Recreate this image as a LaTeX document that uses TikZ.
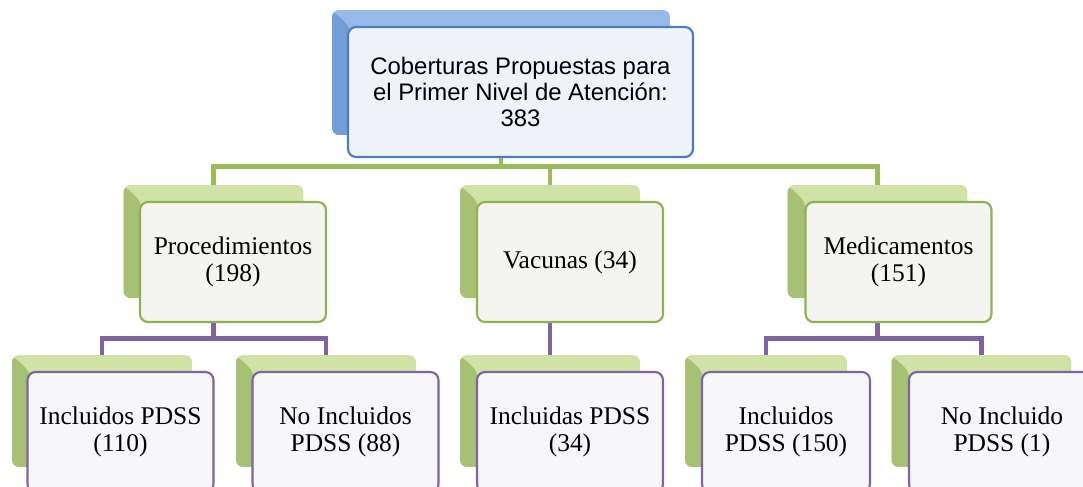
\documentclass[tikz,border=0pt]{standalone}
\usepackage{fontspec}
\setmainfont{Liberation Serif}
\newfontfamily\arialfont{Liberation Sans}
\definecolor{blueTop}{HTML}{95B9E9}
\definecolor{blueSide}{HTML}{739ED8}
\definecolor{blueLine}{HTML}{4A7EBB}
\definecolor{bluePaper}{HTML}{F0F2FA}
\definecolor{greenTop}{HTML}{D0E2A6}
\definecolor{greenSide}{HTML}{A6C174}
\definecolor{greenLine}{HTML}{8FB24F}
\definecolor{greenPaper}{HTML}{F4F4F0}
\definecolor{greenBar}{HTML}{9BBB59}
\definecolor{purpleLine}{HTML}{8064A2}
\definecolor{purplePaper}{HTML}{F7F6FA}
\tikzset{
  backbox/.style={rounded corners=0.14cm, fill=#1Top, inner sep=0pt,
    minimum width=3.6cm, minimum height=2.26cm,
    path picture={\fill[#1Side] (path picture bounding box.north west)
      -- ++(0.36cm,-0.34cm) -- ++(0,-6cm) -- ++(-0.36cm,0) -- cycle;}},
  frontbox/.style={rounded corners=0.16cm, draw=#1Line, line width=1.2pt,
    fill=#1Paper, align=center,
    minimum width=3.72cm, minimum height=2.4cm, inner sep=2pt,
    font=\fontsize{14.5}{15}\selectfont},
  bar/.style={draw=#1, line width=2.8pt}
}
\begin{document}
\begin{tikzpicture}[x=0.02cm, y=-0.02cm]
\clip (0,0) rectangle (1083,487);
% shadow boxes
\node[backbox=blue, minimum width=6.76cm, minimum height=2.5cm] (topback) at (501,72.5) {};
\node[backbox=green] (procback) at (213.5,241.5) {};
\node[backbox=green] (vacback) at (550,241.5) {};
\node[backbox=green] (medback) at (877.5,241.5) {};
\node[backbox=green, minimum height=2.24cm] (procinback) at (102,411) {};
\node[backbox=green, minimum height=2.24cm] (procnoback) at (326,411) {};
\node[backbox=green, minimum height=2.24cm] (vacinback) at (550,411) {};
\node[backbox=green, minimum width=3.24cm, minimum height=2.24cm] (medinback) at (766,411) {};
\node[backbox=green, minimum height=2.24cm] (mednoback) at (981.5,411) {};
% green lines
\draw[bar=greenBar] (topback.south) -- ++(0,31) -| (procback.north);
\draw[bar=greenBar] (topback.south) -- ++(0,31) -| (vacback.north);
\draw[bar=greenBar] (topback.south) -- ++(0,31) -| (medback.north);
% purple lines
\draw[bar=purpleLine] (procback.south) -- ++(0,40) -| (procinback.north);
\draw[bar=purpleLine] (procback.south) -- ++(0,40) -| (procnoback.north);
\draw[bar=purpleLine] (vacback.south) -- (vacinback.north);
\draw[bar=purpleLine] (medback.south) -- ++(0,40) -| (medinback.north);
\draw[bar=purpleLine] (medback.south) -- ++(0,40) -| (mednoback.north);
% boxes
\node[frontbox=blue, minimum width=6.9cm, minimum height=2.6cm,
  font=\arialfont\fontsize{13.6}{14.7}\selectfont] (top) at (520.5,92)
  {Coberturas Propuestas para\\el Primer Nivel de Atención:\\383};
\node[frontbox=green] (proc) at (233,262) {Procedimientos\\(198)};
\node[frontbox=green] (vac) at (570,262) {Vacunas (34)};
\node[frontbox=green] (med) at (898.5,262) {Medicamentos\\(151)};
\node[frontbox=purple] (procin) at (120.5,432) {Incluidos PDSS\\(110)};
\node[frontbox=purple] (procno) at (345.5,432) {No Incluidos\\PDSS (88)};
\node[frontbox=purple] (vacin) at (570,432) {Incluidas PDSS\\(34)};
\node[frontbox=purple, minimum width=3.36cm] (medin) at (786,432) {Incluidos\\PDSS (150)};
\node[frontbox=purple] (medno) at (1002,432) {No Incluido\\PDSS (1)};
\end{tikzpicture}
\end{document}
